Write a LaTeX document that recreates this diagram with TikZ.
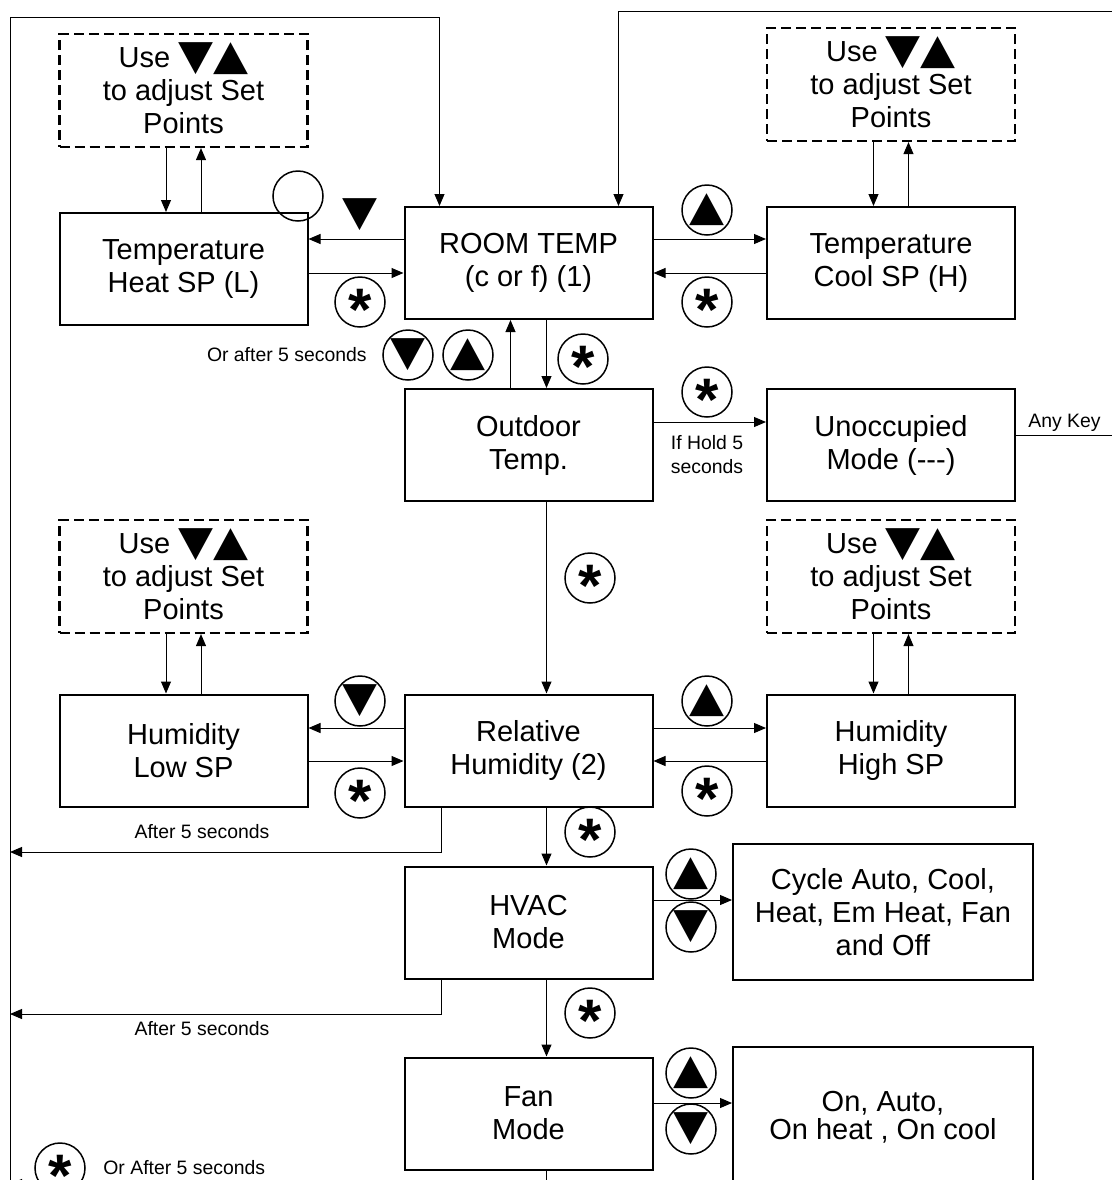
\documentclass[tikz,border=0pt]{standalone}
\usepackage{fontspec}
\setmainfont{Liberation Sans}
\newfontfamily\symfont{DejaVu Sans}
\usetikzlibrary{arrows.meta}

\newcommand{\dntri}{\raisebox{\depth}{\resizebox*{17.5pt}{16pt}{\symfont ▼}}}
\newcommand{\uptri}{\raisebox{\depth}{\resizebox*{17.5pt}{16pt}{\symfont ▲}}}
\newcommand{\astk}{\raisebox{-0.47em}{\bfseries *}}
\newcommand{\usekeys}{Use \smash{\raisebox{-3.5pt}{\dntri\uptri}}\\to adjust Set\\Points}

\tikzset{
  box/.style={draw,line width=1pt,minimum width=124pt,minimum height=56pt,align=center,
    inner sep=0pt,font=\fontsize{14.5}{16.5}\selectfont},
  setbox/.style={box,line width=1.1pt,dash pattern=on 5pt off 2.5pt,minimum height=56.5pt},
  keyring/.style={circle,draw,line width=0.75pt,minimum size=25pt,inner sep=0pt},
  astkey/.style={keyring,text height=0pt,text depth=0pt,font=\fontsize{30}{30}\selectfont},
  small/.style={inner sep=0pt,align=center,font=\fontsize{9.7}{12}\selectfont},
  link/.style={line width=0.5pt,-{Triangle[length=6pt,width=5pt]}},
}

\begin{document}
\begin{tikzpicture}[x=0.5pt,y=-0.5pt]
  \useasboundingbox (0,0) rectangle (1112,1180);

  % boxes
  \node[setbox] (adjheat) at (183.5,90.5) {\usekeys};
  \node[box] (heat) at (183.5,269) {Temperature\\Heat SP (L)};
  \node[box] (room) at (528.5,263) {ROOM TEMP\\(c or f) (1)};
  \node[box] (cool) at (891,263) {Temperature\\Cool SP (H)};
  \node[setbox] (adjcool) at (891,84.5) {\usekeys};
  \node[box] (outdoor) at (528.5,445) {Outdoor\\Temp.};
  \node[box] (unocc) at (891,445) {Unoccupied\\Mode (-{}-{}-)};
  \node[setbox] (adjlow) at (183.5,576.5) {\usekeys};
  \node[box] (hlow) at (183.5,750.5) {Humidity\\Low SP};
  \node[box] (relhum) at (528.5,750.5) {Relative\\Humidity (2)};
  \node[box] (hhigh) at (891,750.5) {Humidity\\High SP};
  \node[setbox] (adjhigh) at (891,576.5) {\usekeys};
  \node[box] (hvac) at (528.5,922.5) {HVAC\\Mode};
  \node[box,minimum width=150pt,minimum height=68pt] (cycle) at (883,912)
    {Cycle Auto, Cool,\\Heat, Em Heat, Fan\\and Off};
  \node[box] (fan) at (528.5,1113.5) {Fan\\Mode};
  \node[box,minimum width=150pt,minimum height=70pt,font=\fontsize{14.5}{14}\selectfont] (fanopts) at (883,1117)
    {On, Auto,\\On heat , On cool};

  % keys
  \node[keyring] (blank) at (298,196) {};
  \node[inner sep=0pt] (dnheat) at (360,215) {\dntri};
  \node[astkey] (k1) at (360,302) {\astk};
  \node[keyring] (k2) at (707,210) {\uptri};
  \node[astkey] (k3) at (707,302) {\astk};
  \node[keyring] (k4) at (408,355) {\dntri};
  \node[keyring] (k5) at (468,355) {\uptri};
  \node[astkey] (k6) at (583,359) {\astk};
  \node[astkey] (k7) at (707,392) {\astk};
  \node[astkey] (k8) at (590,578) {\astk};
  \node[keyring] (k9) at (360,701) {\dntri};
  \node[astkey] (k10) at (360,793) {\astk};
  \node[keyring] (k11) at (707,701) {\uptri};
  \node[astkey] (k12) at (707,791) {\astk};
  \node[astkey] (k13) at (590,832) {\astk};
  \node[keyring] (k14) at (691,874) {\uptri};
  \node[keyring] (k15) at (691,927) {\dntri};
  \node[astkey] (k16) at (590,1013) {\astk};
  \node[keyring] (k17) at (691,1073) {\uptri};
  \node[keyring] (k18) at (691,1129) {\dntri};
  \node[astkey] (k19) at (60,1168) {\astk};

  % labels
  \node[small,anchor=east] (orafter) at (367,355) {Or after 5 seconds};
  \node[small] (hold) at (707,455) {If Hold 5\\seconds};
  \node[small,anchor=base west] (anykey) at (1028,427) {Any Key};
  \node[small] (after1) at (202,832) {After 5 seconds};
  \node[small] (after2) at (202,1029) {After 5 seconds};
  \node[small,anchor=west] (orafter2) at (103,1168) {Or After 5 seconds};

  % outer loops
  \coordinate (lb) at (10,1200);
  \coordinate (lt) at (10,17);
  \coordinate (rk) at (1135,435);
  \coordinate (rt) at (1135,11);
  \draw[link] (lb) -- (lt) -| ([xshift=18pt]room.north west);
  \draw[link] ([yshift=5pt]unocc.east) -- (rk) -- (rt) -| ([xshift=-17.5pt]room.north east);

  % top row
  \draw[link] ([xshift=-8.75pt]adjheat.south) -- ([xshift=-8.75pt]heat.north);
  \draw[link] ([xshift=8.75pt]heat.north) -- ([xshift=8.75pt]adjheat.south);
  \draw[link] ([xshift=-8.75pt]adjcool.south) -- ([xshift=-8.75pt]cool.north);
  \draw[link] ([xshift=8.75pt]cool.north) -- ([xshift=8.75pt]adjcool.south);
  \draw[link] ([yshift=12pt]room.west) -- ([yshift=12pt]room.west -| heat.east);
  \draw[link] ([yshift=-5pt]room.west -| heat.east) -- ([yshift=-5pt]room.west);
  \draw[link] ([yshift=12pt]room.east) -- ([yshift=12pt]room.east -| cool.west);
  \draw[link] ([yshift=-5pt]room.east -| cool.west) -- ([yshift=-5pt]room.east);

  % centre column
  \draw[link] ([xshift=-9pt]outdoor.north) -- ([xshift=-9pt]room.south);
  \draw[link] ([xshift=9pt]room.south) -- ([xshift=9pt]outdoor.north);
  \draw[link] ([yshift=11.5pt]outdoor.east) -- ([yshift=11.5pt]outdoor.east -| unocc.west);
  \draw[link] ([xshift=9pt]outdoor.south) -- ([xshift=9pt]relhum.north);
  \draw[link] ([xshift=9pt]relhum.south) -- ([xshift=9pt]hvac.north);
  \draw[link] ([xshift=9pt]hvac.south) -- ([xshift=9pt]fan.north);
  \coordinate (fanout) at (546.5,1200);
  \draw[line width=0.5pt] ([xshift=9pt]fan.south) -- (fanout);

  % humidity row
  \draw[link] ([xshift=-8.75pt]adjlow.south) -- ([xshift=-8.75pt]hlow.north);
  \draw[link] ([xshift=8.75pt]hlow.north) -- ([xshift=8.75pt]adjlow.south);
  \draw[link] ([xshift=-8.75pt]adjhigh.south) -- ([xshift=-8.75pt]hhigh.north);
  \draw[link] ([xshift=8.75pt]hhigh.north) -- ([xshift=8.75pt]adjhigh.south);
  \draw[link] ([yshift=11.25pt]relhum.west) -- ([yshift=11.25pt]relhum.west -| hlow.east);
  \draw[link] ([yshift=-5.25pt]relhum.west -| hlow.east) -- ([yshift=-5.25pt]relhum.west);
  \draw[link] ([yshift=11.25pt]relhum.east) -- ([yshift=11.25pt]relhum.east -| hhigh.west);
  \draw[link] ([yshift=-5.25pt]relhum.east -| hhigh.west) -- ([yshift=-5.25pt]relhum.east);

  % mode rows
  \draw[link] ([yshift=11.25pt]hvac.east) -- ([yshift=11.25pt]hvac.east -| cycle.west);
  \draw[link] ([yshift=5.25pt]fan.east) -- ([yshift=5.25pt]fan.east -| fanopts.west);

  % back to room temp
  \coordinate (lh1) at (10,852);
  \coordinate (lh2) at (10,1014);
  \coordinate (lh3) at (10,1184);
  \coordinate (fanback) at (300,1184);
  \draw[link] ([xshift=-43.75pt]relhum.south) |- (lh1);
  \draw[link] ([xshift=-43.75pt]hvac.south) |- (lh2);
  \draw[link] (fanback) -- (lh3);
\end{tikzpicture}
\end{document}
